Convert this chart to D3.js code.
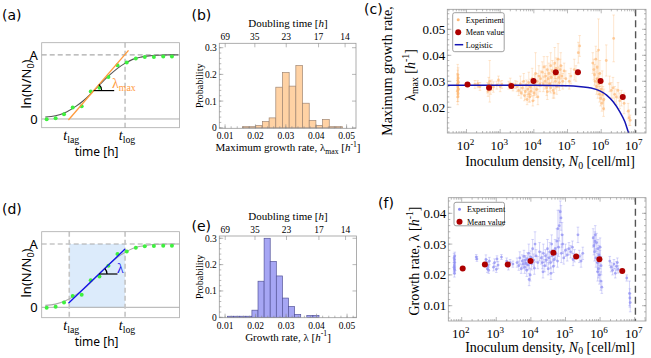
<!DOCTYPE html>
<html>
<head>
<meta charset="utf-8">
<script src="https://cdn.jsdelivr.net/npm/d3@7/dist/d3.min.js"></script>
<style>
body { margin: 0; background: #fff; }
svg text { font-family: "Liberation Serif", "Times New Roman", serif; fill: #000; }
</style>
</head>
<body>
<script>
// ---------- data ----------
// schematic growth curve, panels (a) and (d)
var curveT  = [0.26, 1.0, 1.8, 2.5, 3.0, 3.5, 4.0, 4.5, 5.0, 5.5, 6.1, 6.6, 7.2, 7.8, 8.4, 9.2, 9.9];
var curveLn = [0.03, 0.05, 0.11, 0.20, 0.28, 0.38, 0.49, 0.60, 0.70, 0.79, 0.875, 0.93, 0.965, 0.985, 0.995, 1.0, 1.0];
var dotT  = [0.36, 1.01, 1.62, 2.25, 2.90, 3.56, 4.19, 4.84, 5.50, 6.17, 6.83, 7.48, 8.14, 8.82, 9.45];
var dotLn = [-0.005, 0.01, 0.075, 0.18, 0.20, 0.427, 0.487, 0.655, 0.84, 0.882, 0.942, 0.966, 0.968, 0.974, 0.974];
var tLag = 2.0, tLog = 6.05;
var tangentA = [[1.94, -0.016], [6.3, 1.07]];
var tangentD = [[1.94, 0.063], [6.05, 0.92]];
var angleA = [3.77, 5.26, 0.443];   // t start, t end, level
var angleD = [4.16, 5.5, 0.526];

// histograms (b), (e)
var probB = [0.004, 0.004, 0.008, 0.023, 0.037, 0.152, 0.207, 0.156, 0.233, 0.092, 0.027, 0.009, 0.031, 0.004, 0.004];
var binStartB = 0.0157, binWidthB = 0.0022;
var probE = [0.004, 0.004, 0.004, 0.004, 0.027, 0.137, 0.300, 0.212, 0.157, 0.073, 0.041, 0.011, 0, 0.007, 0.007];
var binStartE = 0.0108, binWidthE = 0.002;
var rateTicks = [0.01, 0.02, 0.03, 0.04, 0.05];
var doublingTicks = [69, 35, 23, 17, 14];
var probTicks = [0, 0.1, 0.2, 0.3];

// scatter (c), (f): [log10 N0, rate, error]
var expC = [
 [1.74,.0240,.003],[1.75,.0252,.003],[1.73,.0262,.004],[1.76,.0270,.003],[1.74,.0278,.004],[1.75,.0285,.003],
 [1.73,.0290,.004],[1.76,.0296,.003],[1.74,.0303,.004],[1.75,.0312,.004],[1.74,.0325,.004],[1.75,.0268,.0025],
 [2.25,.0288,.0015],[2.33,.0290,.0012],[2.35,.0285,.001],[2.4,.0280,.0015],
 [2.62,.0275,.002],[2.64,.0262,.002],[2.66,.0290,.0025],[2.69,.0300,.008],[2.72,.0270,.002],[2.75,.0285,.002],[2.8,.0278,.002],
 [2.9,.0285,.0015],[2.95,.0305,.0015],[3.0,.0280,.002],[3.05,.0288,.0015],
 [3.25,.0285,.0015],[3.3,.0292,.002],[3.38,.0278,.0015],[3.45,.0287,.0015],[3.5,.0280,.002],
 [3.55,.0265,.002],[3.6,.0290,.003],[3.62,.0255,.002],[3.66,.0275,.0025],[3.7,.0300,.003],[3.72,.0245,.002],
 [3.75,.0260,.003],[3.78,.0285,.002],[3.8,.0230,.002],[3.82,.0270,.003],[3.85,.0295,.004],[3.86,.0250,.003],
 [3.88,.0240,.002],[3.9,.0278,.003],[3.92,.0262,.002],[3.95,.0310,.004],[3.97,.0225,.002],[4.0,.0255,.003],
 [4.02,.0285,.004],[4.05,.0330,.008],[4.08,.0268,.003],[4.1,.0300,.003],[4.12,.0240,.003],[4.15,.0320,.004],[4.18,.0290,.003],
 [4.2,.0310,.003],[4.25,.0335,.004],[4.28,.0290,.003],[4.3,.0355,.004],[4.33,.0300,.003],[4.35,.0320,.004],
 [4.38,.0275,.003],[4.4,.0345,.005],[4.42,.0310,.003],[4.45,.0330,.004],[4.47,.0290,.003],[4.5,.0360,.005],
 [4.52,.0315,.003],[4.55,.0340,.004],[4.57,.0265,.003],[4.6,.0325,.004],[4.62,.0370,.006],[4.64,.0300,.003],
 [4.66,.0350,.004],[4.68,.0280,.003],[4.7,.0335,.005],[4.72,.0385,.006],[4.74,.0315,.004],[4.76,.0295,.003],
 [4.78,.0345,.004],[4.8,.0360,.005],[4.83,.0320,.004],[4.86,.0300,.003],[4.9,.0340,.003],[4.95,.0310,.003],
 [4.5,.0275,.002],[4.4,.0260,.003],[4.6,.0255,.002],
 [5.05,.0300,.003],[5.1,.0320,.003],[5.2,.0345,.004],[5.25,.0330,.003],[5.32,.0410,.004],[5.36,.0436,.004],
 [5.75,.0370,.004],[5.78,.0345,.004],[5.8,.0325,.004],[5.82,.0300,.003],[5.84,.0385,.005],[5.86,.0280,.003],
 [5.88,.0310,.004],[5.9,.0265,.003],[5.92,.0420,.012],[5.93,.0290,.004],[5.95,.0250,.003],[5.96,.0330,.005],
 [5.98,.0235,.003],[6.0,.0270,.004],[6.02,.0215,.003],[6.03,.0300,.004],[6.05,.0250,.003],[6.07,.0195,.003],
 [6.08,.0230,.004],[5.88,.0355,.006],
 [6.15,.0380,.006],[6.37,.0465,.009],
 [6.25,.0290,.003],[6.3,.0265,.003],[6.35,.0275,.004],[6.4,.0250,.003],[6.45,.0240,.003],[6.5,.0265,.003],
 [6.55,.0225,.003],[6.6,.0235,.003],[6.68,.0215,.004],
 [6.8,.0185,.003],[6.83,.0160,.003],[6.86,.0150,.002]
];
var expF = [
 [1.79,.0205,.0012],[1.8,.0215,.0012],[1.78,.0225,.0015],[1.79,.0232,.0012],[1.8,.0240,.0015],[1.79,.0248,.0012],
 [1.78,.0255,.0015],[1.8,.0262,.0012],[1.79,.0220,.001],
 [2.42,.0258,.0008],[2.44,.0252,.0008],
 [2.7,.0250,.0015],[2.72,.0240,.001],[2.74,.0220,.0012],[2.76,.0230,.0012],[2.78,.0215,.001],[2.8,.0245,.0012],
 [2.92,.0225,.0012],[2.95,.0240,.0012],[3.0,.0218,.001],[3.02,.0252,.001],[3.05,.0232,.0012],[3.15,.0258,.0008],
 [3.3,.0245,.001],[3.35,.0228,.0012],[3.4,.0240,.001],[3.48,.0235,.001],
 [3.6,.0240,.0015],[3.65,.0230,.0015],[3.68,.0255,.002],[3.72,.0220,.0015],[3.75,.0245,.002],[3.78,.0235,.0015],
 [3.8,.0260,.002],[3.82,.0225,.002],[3.84,.0248,.0015],[3.86,.0238,.002],[3.88,.0215,.002],[3.9,.0252,.002],
 [3.92,.0232,.0015],[3.94,.0270,.003],[3.96,.0242,.002],[3.98,.0200,.002],[4.0,.0258,.002],[4.02,.0236,.002],
 [4.05,.0285,.003],[4.08,.0248,.002],[4.1,.0222,.002],[4.12,.0300,.004],[4.15,.0262,.002],[4.2,.0240,.002],
 [4.25,.0275,.003],[3.95,.0185,.002],
 [4.3,.0255,.002],[4.33,.0240,.002],[4.36,.0270,.003],[4.4,.0230,.002],[4.42,.0262,.002],[4.45,.0248,.002],
 [4.48,.0285,.003],[4.5,.0220,.002],[4.52,.0255,.002],[4.55,.0275,.003],[4.57,.0240,.002],[4.6,.0300,.003],
 [4.62,.0262,.002],[4.65,.0228,.002],[4.67,.0250,.002],[4.7,.0285,.003],[4.72,.0268,.002],[4.75,.0310,.004],
 [4.77,.0245,.002],[4.8,.0290,.003],[4.82,.0360,.005],[4.85,.0405,.0035],[4.87,.0385,.004],[4.88,.0270,.003],
 [4.9,.0330,.004],[4.92,.0300,.003],[4.95,.0255,.002],[5.0,.0280,.002],[5.05,.0265,.002],[5.1,.0285,.002],
 [5.15,.0275,.002],[5.2,.0290,.002],[5.22,.0250,.002],[5.26,.0262,.002],[4.35,.0210,.002],[4.58,.0205,.002],
 [4.78,.0350,.006],[5.36,.0330,.0025],[5.4,.0260,.002],[5.45,.0245,.002],[5.5,.0270,.002],
 [5.8,.0320,.003],[5.82,.0295,.003],[5.84,.0275,.003],[5.86,.0330,.003],[5.88,.0255,.003],[5.9,.0305,.003],
 [5.92,.0240,.003],[5.94,.0285,.003],[5.95,.0220,.003],[5.97,.0265,.003],[5.98,.0200,.003],[6.0,.0250,.003],
 [6.02,.0180,.003],[6.03,.0230,.003],[6.05,.0160,.002],[5.85,.0310,.003],[5.93,.0210,.003],[6.0,.0290,.003],
 [6.28,.0245,.0015],[6.32,.0225,.0015],[6.36,.0215,.0015],[6.4,.0235,.0015],[6.44,.0205,.0015],[6.47,.0228,.0015],
 [6.5,.0240,.0015],[6.52,.0218,.0012],
 [6.77,.0190,.001],[6.85,.0140,.004],[6.87,.0110,.003],[6.86,.0125,.003]
];
var meanN0 = [107, 468, 2140, 9770, 44700, 204000, 955000, 4370000];
var meanC = [0.0288, 0.0275, 0.0282, 0.0301, 0.0335, 0.0335, 0.0301, 0.0240];
var meanF = [0.0221, 0.0234, 0.0234, 0.0245, 0.0272, 0.0260, 0.0251, 0.0213];
// logistic model curve [log10 N0, rate]
var logisticC = [[1.43, 0.0285], [4.0, 0.0285], [5.0, 0.0283], [5.4, 0.0279], [5.7, 0.0274], [5.96, 0.0263],
                 [6.16, 0.0247], [6.35, 0.0222], [6.55, 0.0183], [6.7, 0.0145], [6.8, 0.0106], [6.85, 0.0088]];
var carryN0 = 1.05e7;
var rateTicksC = [0.02, 0.03, 0.04, 0.05];
var rateTicksF = [0.01, 0.02, 0.03, 0.04];

// ---------- drawing ----------
var svg = d3.select("body").append("svg").attr("width", 651).attr("height", 358);
var SANS = "Noto Sans, DejaVu Sans, sans-serif";

function rich(sel, parts, fs) {
  var shift = 0;
  parts.forEach(function(p) {
    var s = p[1] || "";
    var target = s.indexOf("sub") >= 0 ? fs * 0.2 : (s.indexOf("sup") >= 0 ? -fs * 0.4 : 0);
    var t = sel.append("tspan").text(p[0]).attr("dy", target - shift);
    shift = target;
    if (s.indexOf("it") >= 0) t.attr("font-style", "italic");
    if (target !== 0) t.attr("font-size", fs * 0.7);
  });
  return sel;
}

function panelLabel(txt, x, y) {
  svg.append("text").attr("x", x).attr("y", y).text(txt)
    .style("font-family", "DejaVu Sans, sans-serif").attr("font-size", 14);
}

function tickMarks(g, box, side, pos, len) {
  pos.forEach(function(p) {
    var l = g.append("line").attr("stroke", "#8a8a8a").attr("stroke-width", 0.6);
    if (side === "b") l.attr("x1", p).attr("x2", p).attr("y1", box.y1).attr("y2", box.y1 - len);
    if (side === "t") l.attr("x1", p).attr("x2", p).attr("y1", box.y0).attr("y2", box.y0 + len);
    if (side === "l") l.attr("y1", p).attr("y2", p).attr("x1", box.x0).attr("x2", box.x0 + len);
    if (side === "r") l.attr("y1", p).attr("y2", p).attr("x1", box.x1).attr("x2", box.x1 - len);
  });
}

function frameRect(g, box, color) {
  g.append("rect").attr("x", box.x0).attr("y", box.y0)
    .attr("width", box.x1 - box.x0).attr("height", box.y1 - box.y0)
    .attr("fill", "none").attr("stroke", color).attr("stroke-width", 0.8);
}

// ---- (a), (d) growth curve schematics ----
function growthPanel(cfg) {
  var box = cfg.box;
  var g = svg.append("g");
  var x = d3.scaleLinear().domain([0, 10]).range([box.x0, box.x1]);
  var y = d3.scaleLinear().domain(cfg.yDom).range([box.y1, box.y0]);

  if (cfg.shade) {
    g.append("rect").attr("x", x(tLag)).attr("y", y(1))
      .attr("width", x(tLog) - x(tLag)).attr("height", y(0) - y(1)).attr("fill", "#dcebfb");
  }
  g.append("line").attr("x1", box.x0).attr("x2", box.x1).attr("y1", y(0)).attr("y2", y(0))
    .attr("stroke", "#999").attr("stroke-width", 0.8);
  g.append("line").attr("x1", box.x0).attr("x2", box.x1).attr("y1", y(1)).attr("y2", y(1))
    .attr("stroke", "#aaa").attr("stroke-width", 1.1).attr("stroke-dasharray", "5,3");
  cfg.vDash.forEach(function(t) {
    g.append("line").attr("x1", x(t)).attr("x2", x(t)).attr("y1", box.y0).attr("y2", box.y1)
      .attr("stroke", "#c4c4c4").attr("stroke-width", 1.6).attr("stroke-dasharray", "5,3");
  });

  var line = d3.line().x(function(d) { return x(d[0]); }).y(function(d) { return y(d[1]); });
  g.append("path").datum(d3.zip(curveT, curveLn)).attr("d", line.curve(d3.curveMonotoneX))
    .attr("fill", "none").attr("stroke", cfg.curveColor).attr("stroke-width", 1.1);

  g.selectAll(".dot").data(d3.zip(dotT, dotLn)).enter().append("circle")
    .attr("cx", function(d) { return x(d[0]); }).attr("cy", function(d) { return y(d[1]); })
    .attr("r", 2).attr("fill", "#3ef03e");

  g.append("path").datum(cfg.tangent).attr("d", d3.line().x(function(d) { return x(d[0]); }).y(function(d) { return y(d[1]); }))
    .attr("stroke", cfg.lineColor).attr("stroke-width", 1.3).attr("fill", "none");

  // angle marker
  var a = cfg.angle, cx = x(a[0]), cy = y(a[2]);
  g.append("line").attr("x1", cx).attr("x2", x(a[1])).attr("y1", cy).attr("y2", cy)
    .attr("stroke", "#000").attr("stroke-width", 1.2);
  var p0 = cfg.tangent[0], p1 = cfg.tangent[1];
  var th = Math.atan2(y(p0[1]) - y(p1[1]), x(p1[0]) - x(p0[0]));
  var r = 8;
  g.append("path")
    .attr("d", "M" + (cx + r) + "," + cy + "A" + r + "," + r + " 0 0 0 " + (cx + r * Math.cos(th)) + "," + (cy - r * Math.sin(th)))
    .attr("fill", "none").attr("stroke", "#000").attr("stroke-width", 1.2);
  var lt = g.append("text").attr("x", cfg.lamPos[0]).attr("y", cfg.lamPos[1])
    .attr("font-size", 14).style("fill", cfg.lineColor);
  rich(lt, cfg.lamParts, 14);

  frameRect(g, box, "#aaa");

  // labels
  g.append("text").attr("x", box.x0 - 4).attr("y", y(1) + 5).attr("text-anchor", "end")
    .attr("font-size", 13).style("font-family", SANS).text("A");
  g.append("text").attr("x", box.x0 - 4).attr("y", y(0) + 5).attr("text-anchor", "end")
    .attr("font-size", 13).style("font-family", SANS).text("0");
  [[tLag, "lag"], [tLog, "log"]].forEach(function(d) {
    var t = g.append("text").attr("x", x(d[0]) + 2).attr("y", box.y1 + 12).attr("text-anchor", "middle").attr("font-size", 14);
    rich(t, [["t", "it"], [d[1], "sub"]], 14);
  });
  g.append("text").attr("x", (box.x0 + box.x1) / 2 - 14).attr("y", box.y1 + 28).attr("text-anchor", "middle")
    .attr("font-size", 12).style("font-family", SANS).text("time [h]");
  var yl = g.append("text").attr("transform", "translate(31," + cfg.ylabY + ") rotate(-90)")
    .attr("text-anchor", "middle").attr("font-size", 13).style("font-family", SANS);
  rich(yl, [["ln(N/N"], ["0", "sub"], [")"]], 13);
}

growthPanel({
  box: {x0: 41.7, x1: 179.5, y0: 42.7, y1: 127.7}, yDom: [-0.136, 1.19],
  shade: false, vDash: [tLog], curveColor: "#555", lineColor: "#ff9a3c",
  tangent: tangentA, angle: angleA, lamPos: [112, 88], lamParts: [["λ"], ["max", "sub"]], ylabY: 84
});
growthPanel({
  box: {x0: 41.7, x1: 179.5, y0: 231.7, y1: 317.7}, yDom: [-0.164, 1.194],
  shade: true, vDash: [tLag, tLog], curveColor: "#aaa", lineColor: "#1010ee",
  tangent: tangentD, angle: angleD, lamPos: [117, 273], lamParts: [["λ"]], ylabY: 273
});

// ---- (b), (e) histograms ----
function histPanel(cfg) {
  var box = cfg.box;
  var g = svg.append("g");
  var x = d3.scaleLinear().domain([0.0081, 0.0531]).range([box.x0, box.x1]);
  var y = d3.scaleLinear().domain(cfg.yDom).range([box.y1, box.y0]);
  var bars = cfg.prob.map(function(p, i) { return [cfg.start + i * cfg.width, cfg.start + (i + 1) * cfg.width, p]; })
    .filter(function(d) { return d[2] > 0; });
  g.selectAll(".bar").data(bars).enter().append("rect")
    .attr("x", function(d) { return x(d[0]); }).attr("width", function(d) { return x(d[1]) - x(d[0]); })
    .attr("y", function(d) { return y(d[2]); }).attr("height", function(d) { return y(0) - y(d[2]); })
    .attr("fill", cfg.fill).attr("stroke", cfg.stroke).attr("stroke-width", 0.7);

  frameRect(g, box, "#999");
  tickMarks(g, box, "b", rateTicks.map(x), 4);
  tickMarks(g, box, "b", d3.range(0.010, 0.053, 0.002).map(x), 2);
  tickMarks(g, box, "t", doublingTicks.map(function(T) { return x(Math.LN2 / T); }), 4);
  tickMarks(g, box, "l", probTicks.map(y), 4);
  tickMarks(g, box, "l", d3.range(0, 0.305, 0.02).map(y), 2);
  tickMarks(g, box, "r", probTicks.map(y), 4);

  g.selectAll(".bl").data(rateTicks).enter().append("text")
    .attr("x", x).attr("y", box.y1 + 11).attr("text-anchor", "middle").attr("font-size", 9.5)
    .text(function(d) { return d3.format(".2f")(d); });
  g.selectAll(".tl").data(doublingTicks).enter().append("text")
    .attr("x", function(T) { return x(Math.LN2 / T); }).attr("y", box.y0 - 3).attr("text-anchor", "middle")
    .attr("font-size", 9.5).text(function(d) { return d; });
  g.selectAll(".ll").data(probTicks).enter().append("text")
    .attr("x", box.x0 - 2.5).attr("y", function(d) { return y(d) + 3.5; }).attr("text-anchor", "end")
    .attr("font-size", 9.5).text(function(d) { return d === 0 ? "0" : d3.format(".1f")(d); });

  var tt = g.append("text").attr("x", 288).attr("y", box.y0 - 16).attr("text-anchor", "middle").attr("font-size", 11);
  rich(tt, [["Doubling time ["], ["h", "it"], ["]"]], 11);
  var bt = g.append("text").attr("x", 288).attr("y", box.y1 + 23).attr("text-anchor", "middle").attr("font-size", 11);
  rich(bt, cfg.xlabel, 11);
  g.append("text").attr("transform", "translate(203," + ((box.y0 + box.y1) / 2) + ") rotate(-90)")
    .attr("text-anchor", "middle").attr("font-size", 10).text("Probability");
}

histPanel({
  box: {x0: 219.3, x1: 356, y0: 43.3, y1: 128.3}, yDom: [-0.002, 0.3165],
  prob: probB, start: binStartB, width: binWidthB, fill: "#ffd2a4", stroke: "#a08672",
  xlabel: [["Maximum growth rate, λ"], ["max", "sub"], [" ["], ["h", "it"], ["-1", "sup"], ["]"]]
});
histPanel({
  box: {x0: 219.3, x1: 356.5, y0: 236, y1: 317.7}, yDom: [-0.0015, 0.3087],
  prob: probE, start: binStartE, width: binWidthE, fill: "#a6a6f4", stroke: "#55559a",
  xlabel: [["Growth rate, λ ["], ["h", "it"], ["-1", "sup"], ["]"]]
});

// ---- (c), (f) scatter with error bars ----
function scatterPanel(cfg) {
  var box = cfg.box;
  var g = svg.append("g");
  var x = d3.scaleLog().domain(cfg.xDom).range([box.x0, box.x1]);
  var y = d3.scaleLinear().domain(cfg.yDom).range([box.y1, box.y0]);
  g.append("clipPath").attr("id", cfg.id).append("rect")
    .attr("x", box.x0).attr("y", box.y0).attr("width", box.x1 - box.x0).attr("height", box.y1 - box.y0);
  var plot = g.append("g").attr("clip-path", "url(#" + cfg.id + ")");

  plot.selectAll(".eb").data(cfg.exp).enter().append("path")
    .attr("d", function(d) {
      var px = x(Math.pow(10, d[0])), ya = y(d[1] - d[2]), yb = y(d[1] + d[2]);
      return "M" + px + "," + ya + "V" + yb + "M" + (px - 1.3) + "," + ya + "h2.6M" + (px - 1.3) + "," + yb + "h2.6";
    })
    .attr("fill", "none").attr("stroke", cfg.color).attr("stroke-opacity", 0.5).attr("stroke-width", 0.7);
  plot.selectAll(".pt").data(cfg.exp).enter().append("circle")
    .attr("cx", function(d) { return x(Math.pow(10, d[0])); }).attr("cy", function(d) { return y(d[1]); })
    .attr("r", 1.4).attr("fill", cfg.color).attr("fill-opacity", 0.7);

  if (cfg.logistic) {
    plot.append("path").datum(cfg.logistic)
      .attr("d", d3.line().curve(d3.curveMonotoneX)
        .x(function(d) { return x(Math.pow(10, d[0])); }).y(function(d) { return y(d[1]); }))
      .attr("fill", "none").attr("stroke", "#1414b4").attr("stroke-width", 1.5);
  }
  g.append("line").attr("x1", x(carryN0)).attr("x2", x(carryN0)).attr("y1", box.y0).attr("y2", box.y1)
    .attr("stroke", "#555").attr("stroke-width", 1.4).attr("stroke-dasharray", "7,4");

  g.selectAll(".mean").data(d3.zip(meanN0, cfg.mean)).enter().append("circle")
    .attr("cx", function(d) { return x(d[0]); }).attr("cy", function(d) { return y(d[1]); })
    .attr("r", 3).attr("fill", "#ad0000");

  frameRect(g, box, "#999");
  var majors = [], minors = [];
  for (var e = 1; e <= 7; e++) {
    for (var k = 1; k <= 9; k++) {
      var v = k * Math.pow(10, e);
      if (v < cfg.xDom[0] || v > cfg.xDom[1]) continue;
      (k === 1 ? majors : minors).push(v);
    }
  }
  tickMarks(g, box, "b", majors.map(x), 4);
  tickMarks(g, box, "b", minors.map(x), 2);
  tickMarks(g, box, "t", majors.map(x), 4);
  tickMarks(g, box, "t", minors.map(x), 2);
  var yMin = d3.range(Math.ceil(cfg.yDom[0] * 500) / 500, cfg.yDom[1], 0.002);
  tickMarks(g, box, "l", cfg.yTicks.map(y), 4);
  tickMarks(g, box, "l", yMin.map(y), 2);
  tickMarks(g, box, "r", cfg.yTicks.map(y), 4);
  tickMarks(g, box, "r", yMin.map(y), 2);

  majors.forEach(function(v) {
    var t = g.append("text").attr("x", x(v) - 1).attr("y", box.y1 + 17).attr("text-anchor", "middle").attr("font-size", 13);
    rich(t, [["10"], [String(Math.round(Math.log10(v))), "sup"]], 13);
  });
  g.selectAll(".yl").data(cfg.yTicks).enter().append("text")
    .attr("x", box.x0 - 2).attr("y", function(d) { return y(d) + 4.5; }).attr("text-anchor", "end")
    .attr("font-size", 13).text(function(d) { return d3.format(".2f")(d); });
  var xl = g.append("text").attr("x", 550).attr("y", box.y1 + cfg.xlabOff).attr("text-anchor", "middle").attr("font-size", 14);
  rich(xl, [["Inoculum density, "], ["N", "it"], ["0", "sub"], [" [cell/ml]"]], 14);
  cfg.ylabel.forEach(function(l) {
    var t = g.append("text").attr("transform", "translate(" + l.x + "," + l.y + ") rotate(-90)")
      .attr("text-anchor", "middle").attr("font-size", 14);
    rich(t, l.parts, 14);
  });

  // legend
  var L = cfg.legend;
  g.append("rect").attr("x", L.x).attr("y", L.y).attr("width", L.w).attr("height", L.h)
    .attr("rx", 2).attr("fill", "#fff").attr("stroke", "#888").attr("stroke-width", 0.8);
  L.items.forEach(function(it, i) {
    var yy = L.y + 7 + i * 12.5;
    if (it.type === "exp") g.append("circle").attr("cx", L.x + 5.5).attr("cy", yy).attr("r", 1.5).attr("fill", cfg.color);
    if (it.type === "mean") g.append("circle").attr("cx", L.x + 5.5).attr("cy", yy).attr("r", 3).attr("fill", "#ad0000");
    if (it.type === "line") g.append("line").attr("x1", L.x + 2).attr("x2", L.x + 10.5).attr("y1", yy).attr("y2", yy)
      .attr("stroke", "#1414b4").attr("stroke-width", 1.5);
    g.append("text").attr("x", L.x + 13).attr("y", yy + 3).attr("font-size", 8.2).text(it.label);
  });
}

scatterPanel({
  id: "clipC", box: {x0: 447.3, x1: 646, y0: 9.3, y1: 133}, xlabOff: 33,
  xDom: [Math.pow(10, 1.43), Math.pow(10, 7.33)], yDom: [0.0101, 0.0577],
  exp: expC, mean: meanC, logistic: logisticC, color: "#fdb978", yTicks: rateTicksC,
  ylabel: [{x: 392, y: 71, parts: [["Maximum growth rate,"]]},
           {x: 415, y: 75, parts: [["λ"], ["max", "sub"], [" ["], ["h", "it"], ["-1", "sup"], ["]"]]}],
  legend: {x: 452.7, y: 12.7, w: 51.5, h: 39,
           items: [{type: "exp", label: "Experiment"}, {type: "mean", label: "Mean value"}, {type: "line", label: "Logistic"}]}
});
scatterPanel({
  id: "clipF", box: {x0: 448.3, x1: 646, y0: 197.7, y1: 321}, xlabOff: 30.5,
  xDom: [Math.pow(10, 1.613), Math.pow(10, 7.327)], yDom: [0.00503, 0.04507],
  exp: expF, mean: meanF, logistic: null, color: "#8c8cf2", yTicks: rateTicksF,
  ylabel: [{x: 419, y: 261, parts: [["Growth rate, λ ["], ["h", "it"], ["-1", "sup"], ["]"]]}],
  legend: {x: 454, y: 202.3, w: 50.5, h: 23.5,
           items: [{type: "exp", label: "Experiment"}, {type: "mean", label: "Mean value"}]}
});

panelLabel("(a)", 2, 20);
panelLabel("(b)", 191.5, 20);
panelLabel("(c)", 364, 14);
panelLabel("(d)", 2, 214);
panelLabel("(e)", 191.5, 231);
panelLabel("(f)", 378, 208);
</script>
</body>
</html>
